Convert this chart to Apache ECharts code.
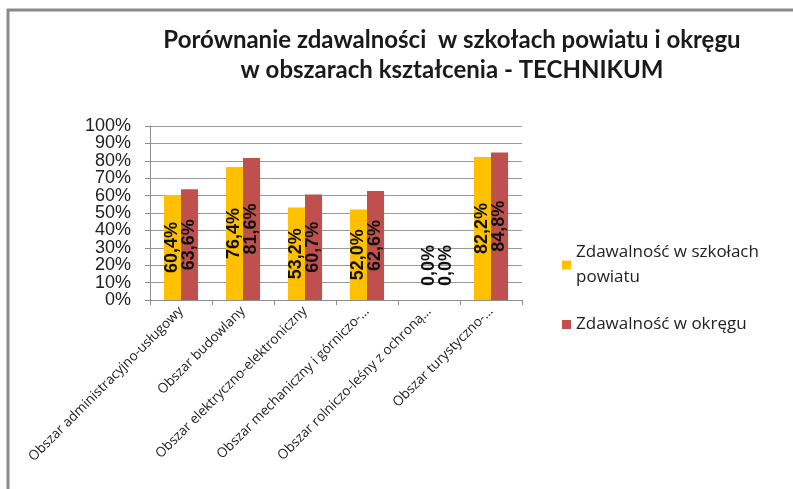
<!DOCTYPE html>
<html>
<head>
<meta charset="utf-8">
<style>
  html, body { margin: 0; padding: 0; background: #fff; }
  #chart { width: 793px; height: 489px; }
</style>
<script src="https://cdn.jsdelivr.net/npm/echarts@6/dist/echarts.min.js"></script>
</head>
<body>
<div id="chart"></div>
<script>
// kategorie (skrócone jak w oryginale)
const categories = [
  'Obszar administracyjno-usługowy',
  'Obszar budowlany',
  'Obszar elektryczno-elektroniczny',
  'Obszar mechaniczny i górniczo-…',
  'Obszar rolniczo-leśny z ochroną…',
  'Obszar turystyczno-…',
]
const powiat = [60.4, 76.4, 53.2, 52.0, 0.0, 82.2]
const okreg = [63.6, 81.6, 60.7, 62.6, 0.0, 84.8]
const seriesNames = ['Zdawalność w szkołach powiatu', 'Zdawalność w okręgu']
// etykiety osi Y rozdzielone na dwie osie, żeby ECharts nie ukrywał ich przy nakładaniu
const yTicksEven = [0, 20, 40, 60, 80, 100]
const yTicksOdd = [10, 30, 50, 70, 90]

const chart = echarts.init(document.getElementById('chart'))

const fmt = (v) => v.toFixed(1).replace('.', ',') + '%'

const barLabel = {
  show: true,
  position: 'inside',
  rotate: 90,
  fontFamily: 'Liberation Sans',
  fontWeight: 'bold',
  fontSize: 18,
  color: '#111',
  formatter: (p) => fmt(p.value),
}

// etykiety dla zerowych słupków przesunięte nad oś
const zeroLift = (params) => {
  if (params.rect.height < 1) {
    return { y: params.rect.y - 14 }
  }
  return {}
}

const yLabel = {
  margin: 19,
  showMinLabel: true,
  showMaxLabel: true,
  fontFamily: 'Liberation Sans',
  fontSize: 18,
  color: '#222',
  formatter: '{value}%',
}

chart.setOption({
  animation: false,
  title: {
    text: 'Porównanie zdawalności  w szkołach powiatu i okręgu\nw obszarach kształcenia - TECHNIKUM',
    left: 447,
    top: 20,
    textAlign: 'center',
    textStyle: {
      fontFamily: 'Lato',
      fontWeight: 'bold',
      fontSize: 24,
      lineHeight: 30,
      color: '#1a1a1a',
    },
  },
  graphic: [
    {
      type: 'polyline',
      shape: { points: [[8, 489], [8, 10], [793, 10]] },
      style: { stroke: '#8a8a8a', lineWidth: 3, fill: null },
      silent: true,
    },
  ],
  grid: {
    left: 150,
    right: 271,
    top: 126,
    bottom: 189,
  },
  legend: {
    orient: 'vertical',
    left: 557,
    top: 235,
    itemWidth: 9,
    itemHeight: 9,
    itemGap: 22,
    icon: 'rect',
    textStyle: {
      fontFamily: 'Open Sans',
      fontSize: 17,
      color: '#222',
      width: 222,
      overflow: 'break',
      lineHeight: 25,
    },
    data: seriesNames,
  },
  xAxis: {
    type: 'category',
    data: categories,
    axisLine: { lineStyle: { color: '#8c8c8c', width: 1 } },
    axisTick: { show: true, length: 5, lineStyle: { color: '#8c8c8c' } },
    axisLabel: {
      rotate: 45,
      interval: 0,
      margin: 9,
      fontFamily: 'Open Sans',
      fontSize: 13.5,
      color: '#222',
    },
  },
  yAxis: [
    {
      type: 'value',
      position: 'left',
      min: 0,
      max: 100,
      interval: 10,
      axisLine: { show: true, lineStyle: { color: '#8c8c8c' } },
      axisTick: { show: true, length: 5, lineStyle: { color: '#8c8c8c' } },
      splitLine: { lineStyle: { color: '#9a9a9a', width: 1 } },
      axisLabel: { ...yLabel, customValues: yTicksEven },
    },
    {
      type: 'value',
      position: 'left',
      min: 0,
      max: 100,
      interval: 10,
      axisLine: { show: false },
      axisTick: { show: false },
      splitLine: { show: false },
      axisLabel: { ...yLabel, customValues: yTicksOdd },
    },
  ],
  series: [
    {
      name: seriesNames[0],
      type: 'bar',
      data: powiat,
      barGap: '0%',
      barCategoryGap: '45%',
      itemStyle: { color: '#FFC000' },
      label: barLabel,
      labelLayout: zeroLift,
    },
    {
      name: seriesNames[1],
      type: 'bar',
      data: okreg,
      itemStyle: { color: '#C0504D' },
      label: barLabel,
      labelLayout: zeroLift,
    },
  ],
})
</script>
</body>
</html>
